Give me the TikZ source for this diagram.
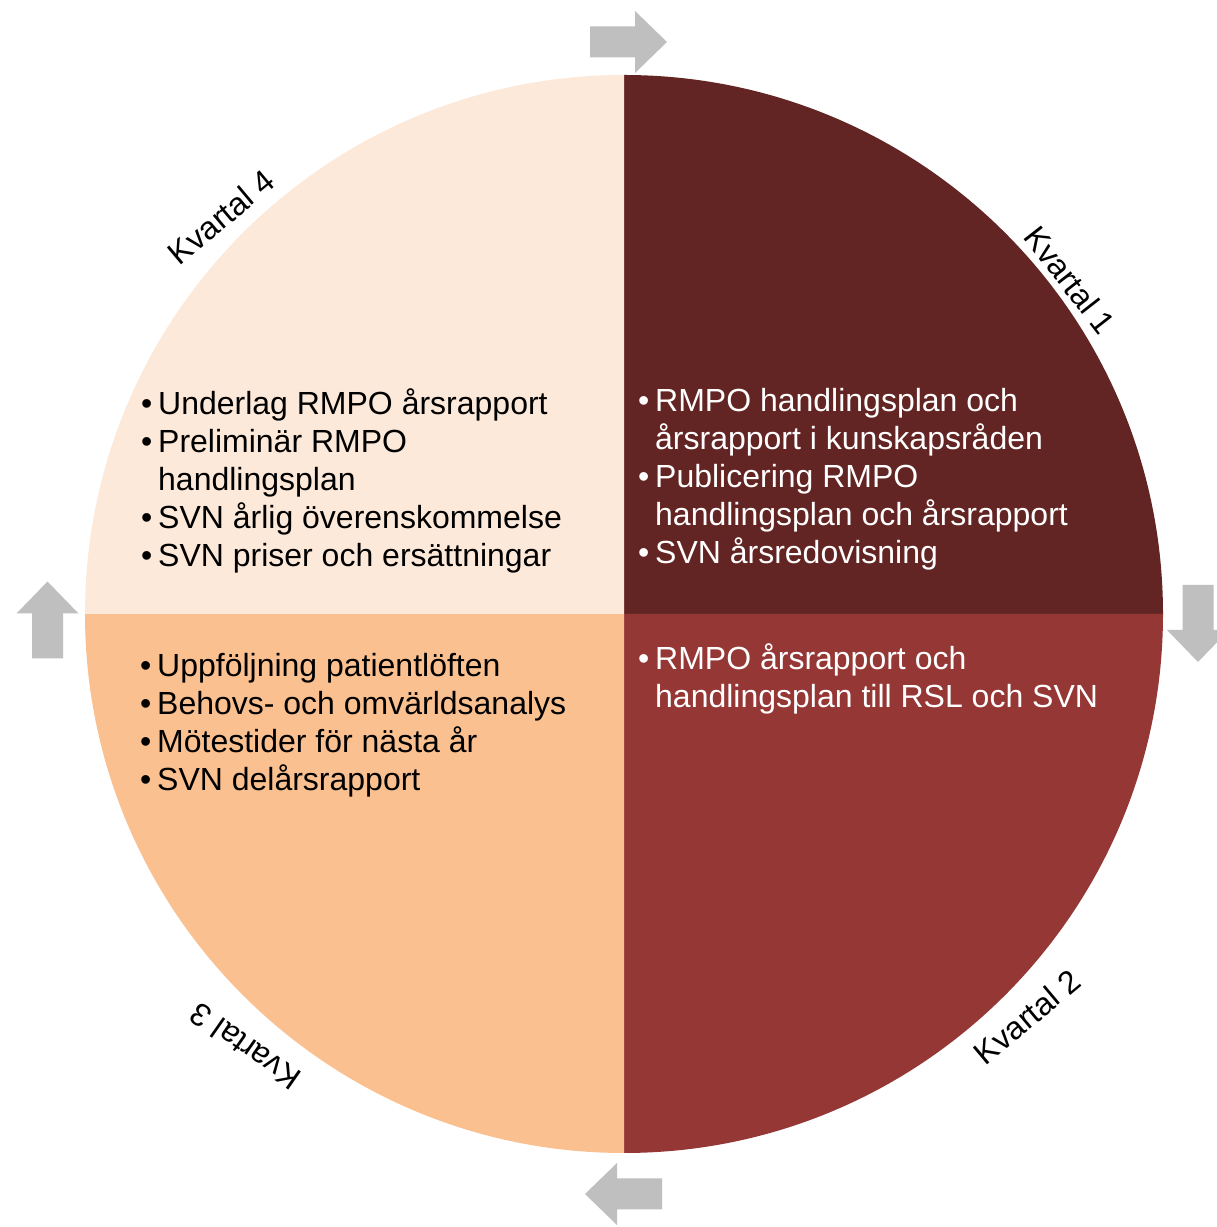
\documentclass[tikz,border=0pt]{standalone}
\usepackage{fontspec}
\setmainfont{Liberation Sans}
\definecolor{qone}{HTML}{632523}
\definecolor{qtwo}{HTML}{953735}
\definecolor{qthree}{HTML}{FAC090}
\definecolor{qfour}{HTML}{FDE9D9}
\definecolor{agray}{HTML}{BFBFBF}
\newcommand\bul{\makebox[17pt][l]{•}}
\newcommand\cnt{\hspace*{17pt}}
\begin{document}
\begin{tikzpicture}[x=1pt,y=1pt,
  big/.style={font=\fontsize{32}{38}\selectfont},
  itemtext/.style={big, anchor=base west, inner sep=0pt},
  qlabel/.style={big, fill=white, inner sep=4pt, text=black},
  garrow/.pic={\fill[agray] (-38.5,-15.5) -- (6.5,-15.5) -- (6.5,-31) -- (38.5,0) -- (6.5,31) -- (6.5,15.5) -- (-38.5,15.5) -- cycle;}
]
\useasboundingbox (0,0) rectangle (1217,1227);
\clip (0,0) rectangle (1217,1227);
\fill[white] (0,0) rectangle (1217,1227);
\coordinate (C) at (624,613);
% quadrants
\fill[qone]   (C) -- ++(90:539pt) arc[start angle=90,end angle=0,radius=539pt] -- cycle;
\fill[qtwo]   (C) -- ++(0:539pt) arc[start angle=0,end angle=-90,radius=539pt] -- cycle;
\fill[qthree] (C) -- ++(-90:539pt) arc[start angle=-90,end angle=-180,radius=539pt] -- cycle;
\fill[qfour]  (C) -- ++(180:539pt) arc[start angle=180,end angle=90,radius=539pt] -- cycle;
% arrows
\pic (atop) at (628.5,1185) {garrow};
\pic[rotate=-90] (aright) at (1198,603.5) {garrow};
\pic[rotate=180] (abottom) at (623.5,33) {garrow};
\pic[rotate=90] (aleft) at (47.5,607) {garrow};
% labels
\node[qlabel, rotate=40] (k4) at (221,1010) {Kvartal 4};
\node[qlabel, rotate=-52] (k1) at (1070,947) {Kvartal 1};
\node[qlabel, rotate=40] (k2) at (1027,210) {Kvartal 2};
\node[qlabel, rotate=145] (k3) at (245,180) {Kvartal 3};
% texts
\node[itemtext, text=black] (t4) at (141,812) {\parbox[t]{470pt}{\raggedright
\bul Underlag RMPO årsrapport\\
\bul Preliminär RMPO\\
\cnt handlingsplan\\
\bul SVN årlig överenskommelse\\
\bul SVN priser och ersättningar}};
\node[itemtext, text=white] (t1) at (638,815) {\parbox[t]{520pt}{\raggedright
\bul RMPO handlingsplan och\\
\cnt årsrapport i kunskapsråden\\
\bul Publicering RMPO\\
\cnt handlingsplan och årsrapport\\
\bul SVN årsredovisning}};
\node[itemtext, text=black] (t3) at (140,550) {\parbox[t]{470pt}{\raggedright
\bul Uppföljning patientlöften\\
\bul Behovs- och omvärldsanalys\\
\bul Mötestider för nästa år\\
\bul SVN delårsrapport}};
\node[itemtext, text=white] (t2) at (638,557) {\parbox[t]{520pt}{\raggedright
\bul RMPO årsrapport och\\
\cnt handlingsplan till RSL och SVN}};
\end{tikzpicture}
\end{document}
